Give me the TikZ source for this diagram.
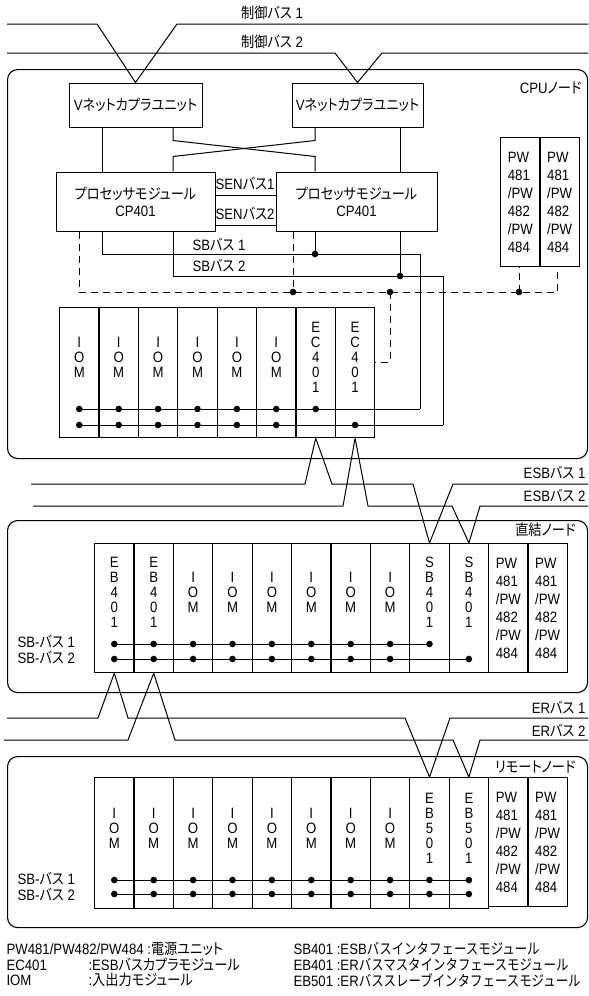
\documentclass[tikz,border=0pt]{standalone}
\usepackage{fontspec}
\setmainfont[FakeStretch=0.88]{Liberation Sans}
\newfontfamily\jp[FakeStretch=0.88,RawFeature={+palt}]{Noto Sans CJK JP}
\newfontfamily\jpf[FakeStretch=0.83]{Noto Sans CJK JP}
\begin{document}
\begin{tikzpicture}[x=1pt,y=-1pt,line width=1pt,
    font=\fontsize{15}{17}\selectfont,
    nodebox/.style={draw,rounded corners=10pt,line width=1.1pt,anchor=north west,inner sep=0pt},
    unitbox/.style={draw,minimum height=44pt,inner sep=0pt},
    procbox/.style={draw,minimum height=59pt,inner sep=0pt,align=center},
    modbox/.style={draw,line width=1.2pt,minimum width=39.4pt,minimum height=130pt,inner sep=0pt,anchor=north west},
    modtext/.style={align=center,inner sep=0pt,font=\fontsize{15}{15}\selectfont},
    pwbox/.style={modbox,minimum height=129pt,align=left,font=\fontsize{15}{18}\selectfont},
    pwrline/.style={line width=1pt,dash pattern=on 7pt off 5pt},
    lbl/.style={inner sep=0pt}]
    \useasboundingbox (0,0) rectangle (589,996);

    % nodes (rounded boxes)
    \node[nodebox,minimum width=580pt,minimum height=389pt] (cpunode) at (7,69) {};
    \node[nodebox,minimum width=580pt,minimum height=172pt] (dknode) at (7,520) {};
    \node[nodebox,minimum width=580pt,minimum height=171pt] (rmnode) at (7,756) {};
    \node[lbl,anchor=east] at (582,88) {CPU{\jp ノード}};
    \node[lbl,anchor=east] at (576,530) {{\jp 直結ノード}};
    \node[lbl,anchor=east] at (576,767) {{\jp リモートノード}};

    % control buses
    \node[unitbox,minimum width=133pt] (vnetL) at (135.5,105) {V{\jp ネットカプラユニット}};
    \node[unitbox,minimum width=131pt] (vnetR) at (357.5,105) {V{\jp ネットカプラユニット}};
    \draw (7,24) -- (97,24) -- (vnetL.north) -- (177,24) -- (588,24);
    \draw (7,53) -- (335,53) -- (vnetR.north) -- (382,53) -- (588,53);
    \node[lbl] (ctlA) at (272,13) {{\jp 制御バス} 1};
    \node[lbl] (ctlB) at (272,42) {{\jp 制御バス} 2};

    % processor modules
    \coordinate (lA) at (102,0);
    \coordinate (lB) at (173,0);
    \coordinate (rA) at (315,0);
    \coordinate (rB) at (400,0);
    \node[procbox,minimum width=159pt] (procL) at (135.5,201.5) {{\jp プロセッサモジュール}\\CP401};
    \node[procbox,minimum width=161pt] (procR) at (356.5,201.5) {{\jp プロセッサモジュール}\\CP401};
    \draw (vnetL.south -| lA) -- (procL.north -| lA);
    \draw (vnetR.south -| rB) -- (procR.north -| rB);
    \draw (procR.north -| rA) -- ++(0,-15) -- ++(-142,-16) -- (vnetL.south -| lB);
    \draw (procL.north -| lB) -- ++(0,-15) -- ++(142,-16) -- (vnetR.south -| rA);

    \coordinate (senA) at (0,195);
    \coordinate (senB) at (0,225);
    \draw (procL.east |- senA) -- (procR.west |- senA);
    \draw (procL.east |- senB) -- (procR.west |- senB);
    \node[lbl] at (245,184) {SEN{\jp バス}1};
    \node[lbl] at (245,214) {SEN{\jp バス}2};

    % SB buses
    \draw (procL.south -| lA) |- (420,254) -- (420,409);
    \draw (procL.south -| lB) |- (443,276) -- (443,425);
    \draw (procR.south -| rA) -- (rA |- 0,254);
    \draw (procR.south -| rB) -- (rB |- 0,276);
    \fill (315,254) circle[radius=3.3pt];
    \fill (400,276) circle[radius=3.3pt];
    \node[lbl] at (219,245) {SB{\jp バス} 1};
    \node[lbl] at (219,266) {SB{\jp バス} 2};

    % CPU node modules
    \foreach \i/\lab in {1/{I\\O\\M},2/{I\\O\\M},3/{I\\O\\M},4/{I\\O\\M},5/{I\\O\\M},6/{I\\O\\M},7/{E\\C\\4\\0\\1},8/{E\\C\\4\\0\\1}}{
        \node[modbox] (cpu\i) at ({59+39.4*(\i-1)},307) {};
        \node[modtext] at ([yshift=-50pt]cpu\i.north) {\lab};
    }
    \node[pwbox] (pwC1) at (500,137) {PW\\481\\/PW\\482\\/PW\\484};
    \node[pwbox] (pwC2) at (539.4,137) {PW\\481\\/PW\\482\\/PW\\484};

    \coordinate (cpuBusA) at (0,409);
    \coordinate (cpuBusB) at (0,425);
    \draw (cpu1 |- cpuBusA) -- (420,409);
    \draw (cpu1 |- cpuBusB) -- (443,425);
    \foreach \i in {1,2,3,4,5,6,7}
        \fill (cpu\i |- cpuBusA) circle[radius=3.3pt];
    \foreach \i in {1,2,3,4,5,6,8}
        \fill (cpu\i |- cpuBusB) circle[radius=3.3pt];

    % power line (dashed)
    \draw[pwrline] (procL.south -| 79,0) -- (79,292) -- (557,292) -- (pwC2.south -| 557,0);
    \draw[pwrline] (procR.south -| 293,0) -- (293,292);
    \draw[pwrline] (390,292) -- (390,362) -- (cpu8.east |- 0,362);
    \draw[pwrline] (519,292) -- (pwC1.south -| 519,0);
    \foreach \x in {293,390,519}
        \fill (\x,292) circle[radius=3.3pt];

    % direct node modules
    \foreach \i/\lab in {1/{E\\B\\4\\0\\1},2/{E\\B\\4\\0\\1},3/{I\\O\\M},4/{I\\O\\M},5/{I\\O\\M},6/{I\\O\\M},7/{I\\O\\M},8/{I\\O\\M},9/{S\\B\\4\\0\\1},10/{S\\B\\4\\0\\1}}{
        \node[modbox,minimum height=129pt] (dk\i) at ({94+39.4*(\i-1)},543) {};
        \node[modtext] at ([yshift=-49pt]dk\i.north) {\lab};
    }
    \node[pwbox] (dk11) at (488,543) {PW\\481\\/PW\\482\\/PW\\484};
    \node[pwbox] (dk12) at (527.4,543) {PW\\481\\/PW\\482\\/PW\\484};

    \coordinate (dkBusA) at (0,644);
    \coordinate (dkBusB) at (0,659);
    \draw (dk1 |- dkBusA) -- (dk9 |- dkBusA);
    \draw (dk1 |- dkBusB) -- (dk10 |- dkBusB);
    \foreach \i in {1,2,3,4,5,6,7,8,9}
        \fill (dk\i |- dkBusA) circle[radius=3.3pt];
    \foreach \i in {1,2,3,4,5,6,7,8,10}
        \fill (dk\i |- dkBusB) circle[radius=3.3pt];
    \node[lbl,anchor=west] at (17,642) {SB-{\jp バス} 1};
    \node[lbl,anchor=west] at (17,658) {SB-{\jp バス} 2};

    % ESB buses
    \draw (31,484) -- (305,484) -- (cpu7.south) -- (332,484) -- (413,484) -- (dk9.north) -- (453,484) -- (588,484);
    \draw (33,506) -- (343,506) -- (cpu8.south) -- (368,506) -- (452,506) -- (dk10.north) -- (480,506) -- (588,506);
    \node[lbl,anchor=east] at (586,473) {ESB{\jp バス} 1};
    \node[lbl,anchor=east] at (586,496) {ESB{\jp バス} 2};

    % remote node modules
    \foreach \i/\lab in {1/{I\\O\\M},2/{I\\O\\M},3/{I\\O\\M},4/{I\\O\\M},5/{I\\O\\M},6/{I\\O\\M},7/{I\\O\\M},8/{I\\O\\M},9/{E\\B\\5\\0\\1},10/{E\\B\\5\\0\\1}}{
        \node[modbox,minimum height=131pt] (rm\i) at ({94+39.4*(\i-1)},777) {};
        \node[modtext] at ([yshift=-51pt]rm\i.north) {\lab};
    }
    \node[pwbox] (rm11) at (488,777) {PW\\481\\/PW\\482\\/PW\\484};
    \node[pwbox] (rm12) at (527.4,777) {PW\\481\\/PW\\482\\/PW\\484};

    \coordinate (rmBusA) at (0,880);
    \coordinate (rmBusB) at (0,894);
    \draw (rm1 |- rmBusA) -- (rm10 |- rmBusA);
    \draw (rm1 |- rmBusB) -- (rm10 |- rmBusB);
    \foreach \i in {1,...,10}{
        \fill (rm\i |- rmBusA) circle[radius=3.3pt];
        \fill (rm\i |- rmBusB) circle[radius=3.3pt];
    }
    \node[lbl,anchor=west] at (17,879) {SB-{\jp バス} 1};
    \node[lbl,anchor=west] at (17,895) {SB-{\jp バス} 2};

    % ER buses
    \draw (7,718) -- (98,718) -- (dk1.south) -- (128,718) -- (405,718) -- (rm9.north) -- (450,718) -- (588,718);
    \draw (4,740) -- (128,740) -- (dk2.south) -- (175,740) -- (453,740) -- (rm10.north) -- (480,740) -- (588,740);
    \node[lbl,anchor=east] at (586,708) {ER{\jp バス} 1};
    \node[lbl,anchor=east] at (586,731) {ER{\jp バス} 2};

    % legend
    \node[lbl,anchor=west] at (6,949) {PW481/PW482/PW484 :{\jp 電源ユニット}};
    \node[lbl,anchor=west] at (6,965) {EC401};
    \node[lbl,anchor=west] at (88,965) {:ESB{\jp バスカプラモジュール}};
    \node[lbl,anchor=west] at (6,980) {IOM};
    \node[lbl,anchor=west] at (88,980) {:{\jp 入出力モジュール}};
    \node[lbl,anchor=west] at (293,949) {SB401 :ESB{\jpf バスインタフェースモジュール}};
    \node[lbl,anchor=west] at (293,965) {EB401 :ER{\jpf バスマスタインタフェースモジュール}};
    \node[lbl,anchor=west] at (293,980) {EB501 :ER{\jpf バススレーブインタフェースモジュール}};
\end{tikzpicture}
\end{document}
